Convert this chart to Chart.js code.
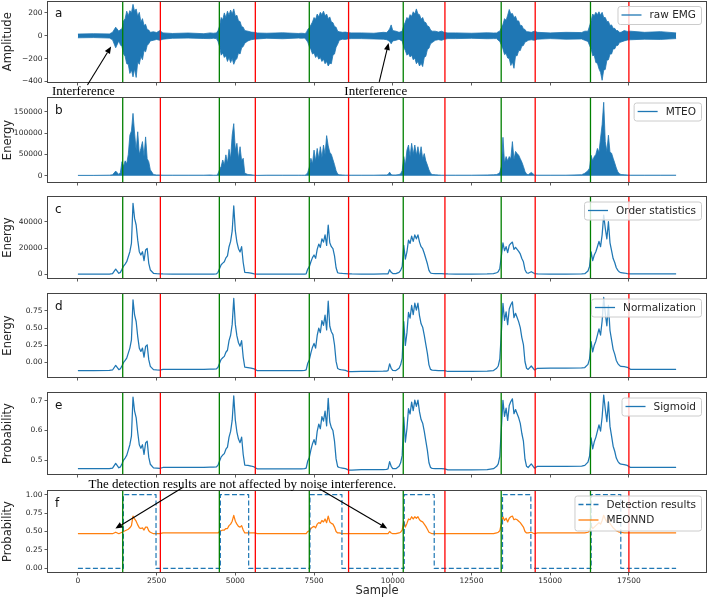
<!DOCTYPE html>
<html lang="en">
<head>
<meta charset="UTF-8">
<title>EMG onset detection stages</title>
<script src="https://cdn.jsdelivr.net/npm/chart.js@4.4.1/dist/chart.umd.min.js"></script>
<style>
  html, body { margin: 0; padding: 0; background: #fff; }
  #figure { position: relative; width: 708px; height: 599px; overflow: hidden; background: #fff; }
  #figure canvas { position: absolute; left: 0; }
</style>
</head>
<body>
<div id="figure"></div>
<script>
// ---- data (sample index on x) ----
const sampleX = [
  0, 500, 1000, 1100, 1200,
  1300, 1350, 1400, 1450, 1500, 1550, 1600, 1650, 1700, 1750, 1800, 1850, 1900, 1950, 2000, 2050, 2100, 2150, 2200, 2250, 2300, 2400, 2500, 2600, 2700,
  3000, 3500, 4000, 4200, 4300, 4400, 4450, 4500, 4550, 4600, 4650, 4700, 4750, 4800, 4850, 4900, 4950, 5000, 5050, 5100, 5150, 5200, 5250, 5300, 5400, 5500, 5600, 5700,
  6000, 6500, 7000, 7100, 7200, 7250, 7300, 7350, 7400, 7450, 7500, 7550, 7600, 7650, 7700, 7750, 7800, 7850, 7900, 7950, 8000, 8050, 8100, 8150, 8200, 8250, 8300, 8400, 8500, 8600, 8700,
  9000, 9400, 9700, 9800, 9850, 9900, 9950, 10000, 10100, 10200, 10250, 10300, 10350, 10400, 10450, 10500, 10550, 10600, 10650, 10700, 10750, 10800, 10850, 10900, 10950, 11000, 11050, 11100, 11150, 11200, 11250, 11350, 11450, 11550, 11650, 11750,
  12000, 12500, 13000, 13200, 13300, 13350, 13400, 13450, 13500, 13550, 13600, 13650, 13700, 13750, 13800, 13850, 13900, 13950, 14000, 14050, 14100, 14150, 14200, 14250, 14300, 14400, 14500, 14600,
  15000, 15500, 16000, 16100, 16200, 16250, 16300, 16350, 16400, 16450, 16500, 16550, 16600, 16650, 16700, 16750, 16800, 16850, 16900, 16950, 17000, 17050, 17100, 17150, 17200, 17250, 17350, 17450, 17550, 18000, 18500, 19000
];

// raw EMG: upper and lower envelope of the dense trace
const rawUpper = [
  15, 18, 16, 30, 75,
  40, 55, 60, 130, 150, 215, 175, 220, 200, 275, 215, 235, 170, 205, 120, 150, 90, 100, 55, 50, 30, 35, 28, 45, 25,
  20, 24, 18, 25, 22, 25, 45, 85, 160, 140, 200, 160, 215, 180, 225, 190, 235, 170, 180, 130, 125, 80, 75, 45, 40, 32, 30, 24,
  22, 26, 20, 22, 20, 25, 55, 70, 95, 120, 160, 145, 190, 165, 205, 185, 215, 175, 190, 150, 165, 120, 115, 80, 75, 40, 35, 30, 32, 26, 25,
  25, 22, 30, 28, 40, 60, 95, 45, 40, 30, 35, 40, 90, 120, 160, 145, 185, 170, 210, 190, 235, 190, 185, 145, 160, 120, 115, 85, 80, 50, 40, 40, 32, 40, 28, 25,
  25, 22, 26, 24, 25, 35, 40, 70, 100, 150, 135, 180, 230, 190, 195, 160, 170, 130, 130, 90, 90, 60, 55, 35, 35, 30, 40, 30,
  25, 30, 28, 40, 40, 85, 130, 190, 175, 205, 185, 210, 180, 205, 160, 160, 125, 125, 90, 95, 65, 65, 45, 45, 30, 30, 45, 38, 40, 30, 36, 25
];
const rawLower = [
  -18, -16, -20, -35, -105,
  -45, -80, -95, -160, -180, -245, -250, -330, -300, -360, -290, -365, -230, -250, -180, -210, -130, -140, -85, -70, -45, -40, -32, -40, -30,
  -22, -20, -24, -25, -22, -25, -50, -95, -170, -150, -190, -175, -225, -190, -235, -200, -250, -215, -200, -150, -160, -105, -95, -65, -45, -35, -30, -28,
  -22, -26, -20, -22, -20, -35, -55, -95, -120, -160, -150, -190, -170, -205, -190, -225, -205, -245, -225, -265, -240, -245, -170, -160, -100, -75, -40, -30, -32, -26, -25,
  -25, -28, -30, -34, -40, -50, -70, -45, -40, -30, -40, -45, -100, -130, -170, -155, -185, -170, -210, -195, -245, -225, -265, -240, -270, -190, -180, -120, -110, -70, -60, -40, -34, -40, -30, -25,
  -25, -22, -26, -25, -25, -40, -50, -80, -115, -165, -155, -195, -200, -260, -230, -285, -175, -175, -130, -130, -90, -85, -55, -50, -40, -35, -40, -30,
  -25, -30, -28, -40, -50, -85, -115, -175, -170, -235, -240, -290, -320, -390, -300, -295, -215, -210, -160, -160, -115, -115, -85, -85, -60, -55, -45, -38, -35, -30, -32, -25
];
const mteo = [
  1000, 1000, 1500, 2500, 11000,
  3000, 8000, 33000, 22000, 35000, 28000, 50000, 95000, 105000, 146000, 100000, 60000, 103000, 50000, 64000, 80000, 45000, 91000, 40000, 33000, 14000, 3000, 2000, 2000, 1500,
  1500, 1500, 1500, 2000, 1500, 1500, 5000, 15000, 22000, 37000, 25000, 49000, 30000, 62000, 40000, 95000, 122000, 60000, 76000, 40000, 68000, 35000, 41000, 6000, 3000, 2500, 1500, 1000,
  1500, 1500, 1500, 1500, 1500, 2500, 8000, 20000, 41000, 28000, 60000, 35000, 64000, 40000, 68000, 42000, 72000, 50000, 94000, 70000, 55000, 50000, 38000, 26000, 12000, 4000, 2500, 2000, 1500, 1500, 1500,
  1500, 1500, 2000, 2000, 3000, 8500, 3000, 2000, 2000, 3000, 5000, 12000, 45000, 25000, 60000, 72000, 45000, 76000, 50000, 72000, 48000, 68000, 45000, 68000, 40000, 52000, 35000, 25000, 14000, 6000, 3000, 2500, 2000, 1500, 1500, 1500,
  1500, 1500, 2000, 2500, 3000, 5000, 8000, 22000, 90000, 30000, 45000, 35000, 45000, 40000, 80000, 38000, 57000, 52000, 48000, 40000, 32000, 22000, 10000, 4000, 2500, 8000, 2000, 1500,
  1500, 1500, 2500, 6000, 12000, 18000, 48000, 35000, 45000, 50000, 64000, 55000, 88000, 120000, 172000, 80000, 57000, 95000, 55000, 53000, 41000, 30000, 18000, 9000, 5000, 3000, 2500, 2000, 1500, 1500, 1500, 1500
];
const orderStat = [
  200, 200, 200, 500, 4000,
  800, 1500, 3800, 6300, 7800, 9600, 13400, 17200, 23500, 54000, 42500, 37500, 26000, 17200, 14700, 17200, 10400, 18500, 19700, 8400, 3300, 800, 500, 400, 300,
  200, 200, 200, 200, 200, 300, 1500, 4500, 7300, 8500, 9500, 12500, 14000, 21000, 25000, 33000, 52000, 33000, 24500, 19500, 17000, 21000, 9000, 1500, 1300, 900, 300, 200,
  200, 200, 200, 200, 200, 400, 4000, 5800, 9600, 12700, 14700, 12200, 19000, 23000, 20500, 27000, 24500, 30000, 22000, 37500, 24000, 21000, 19500, 14000, 5000, 1200, 900, 700, 600, 400, 300,
  200, 200, 250, 300, 400, 3500, 1500, 600, 500, 1500, 3000, 6000, 22000, 11500, 17000, 26000, 23500, 29000, 25000, 30000, 27000, 30000, 24500, 21000, 19500, 16000, 12000, 8000, 3000, 1000, 700, 600, 500, 500, 400, 300,
  200, 200, 250, 500, 1200, 2000, 4500, 14000, 24000, 18000, 21000, 16500, 22000, 23500, 24500, 19000, 20500, 19000, 17500, 15500, 12000, 9500, 3500, 1200, 800, 2000, 600, 400,
  200, 200, 300, 500, 2500, 6000, 17000, 10400, 14700, 17200, 21000, 25000, 21000, 30000, 45000, 35000, 27000, 40000, 24000, 18000, 12000, 9000, 5000, 3000, 1800, 1200, 1000, 600, 400, 300, 300, 300
];
const normalized = [
  -0.118, -0.118, -0.116, -0.11, -0.044,
  -0.105, -0.091, -0.048, 0.0, 0.029, 0.063, 0.136, 0.208, 0.328, 0.91, 0.69, 0.595, 0.376, 0.208, 0.16, 0.208, 0.078, 0.233, 0.256, 0.04, -0.057, -0.105, -0.11, -0.112, -0.10,
  -0.10, -0.10, -0.10, -0.098, -0.098, -0.094, -0.07, -0.011, 0.045, 0.068, 0.088, 0.148, 0.177, 0.316, 0.395, 0.553, 0.93, 0.553, 0.385, 0.286, 0.237, 0.316, 0.078, -0.07, -0.074, -0.082, -0.094, -0.12,
  -0.12, -0.12, -0.12, -0.12, -0.115, -0.109, -0.012, 0.036, 0.139, 0.222, 0.276, 0.209, 0.392, 0.499, 0.432, 0.607, 0.54, 0.688, 0.472, 0.89, 0.526, 0.446, 0.405, 0.257, 0.015, -0.088, -0.10, -0.11, -0.115, -0.135, -0.135,
  -0.13, -0.13, -0.128, -0.126, -0.12, -0.02, -0.085, -0.115, -0.118, -0.085, -0.035, 0.064, 0.595, 0.247, 0.429, 0.728, 0.645, 0.828, 0.695, 0.861, 0.761, 0.861, 0.678, 0.562, 0.512, 0.396, 0.263, 0.131, -0.035, -0.102, -0.112, -0.115, -0.118, -0.118, -0.12, -0.132,
  -0.132, -0.132, -0.128, -0.118, -0.085, -0.052, 0.051, 0.445, 0.859, 0.611, 0.735, 0.549, 0.776, 0.839, 0.88, 0.652, 0.714, 0.652, 0.59, 0.507, 0.362, 0.259, 0.01, -0.085, -0.102, -0.052, -0.11, -0.085,
  -0.083, -0.083, -0.08, -0.074, -0.028, 0.052, 0.304, 0.153, 0.251, 0.309, 0.396, 0.487, 0.396, 0.602, 0.945, 0.716, 0.533, 0.831, 0.464, 0.327, 0.19, 0.121, 0.029, -0.016, -0.044, -0.058, -0.062, -0.071, -0.10, -0.10, -0.10, -0.10
];
const sigmoidOut = [
  0.471, 0.471, 0.471, 0.473, 0.489,
  0.474, 0.477, 0.488, 0.5, 0.507, 0.516, 0.534, 0.552, 0.581, 0.713, 0.666, 0.644, 0.593, 0.552, 0.54, 0.552, 0.519, 0.558, 0.564, 0.51, 0.486, 0.474, 0.473, 0.472, 0.475,
  0.475, 0.475, 0.475, 0.476, 0.476, 0.477, 0.483, 0.497, 0.511, 0.517, 0.522, 0.537, 0.544, 0.578, 0.597, 0.635, 0.717, 0.635, 0.595, 0.571, 0.559, 0.578, 0.519, 0.483, 0.482, 0.48, 0.477, 0.47,
  0.47, 0.47, 0.47, 0.47, 0.471, 0.473, 0.497, 0.509, 0.535, 0.555, 0.569, 0.552, 0.597, 0.622, 0.606, 0.647, 0.632, 0.666, 0.616, 0.709, 0.629, 0.61, 0.6, 0.564, 0.504, 0.478, 0.475, 0.473, 0.471, 0.466, 0.466,
  0.468, 0.468, 0.468, 0.469, 0.47, 0.495, 0.479, 0.471, 0.471, 0.479, 0.491, 0.516, 0.645, 0.561, 0.606, 0.674, 0.656, 0.696, 0.667, 0.703, 0.682, 0.703, 0.663, 0.637, 0.625, 0.598, 0.565, 0.533, 0.491, 0.475, 0.472, 0.471, 0.471, 0.471, 0.47, 0.467,
  0.467, 0.467, 0.468, 0.471, 0.479, 0.487, 0.513, 0.609, 0.702, 0.648, 0.676, 0.634, 0.685, 0.698, 0.707, 0.657, 0.671, 0.657, 0.643, 0.624, 0.59, 0.564, 0.503, 0.479, 0.475, 0.487, 0.473, 0.479,
  0.479, 0.479, 0.48, 0.482, 0.493, 0.513, 0.575, 0.538, 0.562, 0.577, 0.598, 0.619, 0.598, 0.646, 0.72, 0.672, 0.63, 0.697, 0.614, 0.581, 0.547, 0.53, 0.507, 0.496, 0.489, 0.486, 0.485, 0.482, 0.475, 0.475, 0.475, 0.475
];
const meonnd = [
  0.47, 0.47, 0.47, 0.47, 0.49,
  0.47, 0.48, 0.49, 0.50, 0.51, 0.52, 0.53, 0.55, 0.58, 0.71, 0.67, 0.64, 0.59, 0.55, 0.54, 0.55, 0.52, 0.56, 0.56, 0.51, 0.49, 0.47, 0.47, 0.47, 0.48,
  0.48, 0.48, 0.48, 0.48, 0.48, 0.48, 0.48, 0.50, 0.51, 0.52, 0.52, 0.54, 0.54, 0.58, 0.60, 0.64, 0.72, 0.64, 0.60, 0.57, 0.56, 0.58, 0.52, 0.48, 0.48, 0.48, 0.48, 0.47,
  0.47, 0.47, 0.47, 0.47, 0.47, 0.47, 0.50, 0.51, 0.54, 0.56, 0.57, 0.55, 0.60, 0.62, 0.61, 0.65, 0.63, 0.67, 0.62, 0.71, 0.63, 0.61, 0.60, 0.56, 0.50, 0.48, 0.48, 0.47, 0.47, 0.47, 0.47,
  0.47, 0.47, 0.47, 0.47, 0.47, 0.50, 0.48, 0.47, 0.47, 0.48, 0.49, 0.52, 0.64, 0.56, 0.61, 0.67, 0.66, 0.70, 0.67, 0.70, 0.68, 0.70, 0.66, 0.64, 0.63, 0.60, 0.57, 0.53, 0.49, 0.48, 0.47, 0.47, 0.47, 0.47, 0.47, 0.47,
  0.47, 0.47, 0.47, 0.47, 0.48, 0.49, 0.51, 0.61, 0.70, 0.65, 0.68, 0.63, 0.68, 0.70, 0.71, 0.66, 0.67, 0.66, 0.64, 0.62, 0.59, 0.56, 0.50, 0.48, 0.48, 0.49, 0.47, 0.48,
  0.48, 0.48, 0.48, 0.48, 0.49, 0.51, 0.58, 0.54, 0.56, 0.58, 0.60, 0.62, 0.60, 0.65, 0.72, 0.67, 0.63, 0.70, 0.61, 0.58, 0.55, 0.53, 0.51, 0.50, 0.49, 0.49, 0.48, 0.48, 0.48, 0.48, 0.48, 0.48
];

// detection windows (dashed step) and the reference onset / offset markers
const detectOn  = [1444, 4524, 7370, 10365, 13486, 16302];
const detectOff = [2481, 5423, 8386, 11317, 14386, 17243];
const onsetMarks  = [1423, 4492, 7349, 10333, 13444, 16280];
const offsetMarks = [2619, 5635, 8597, 11657, 14524, 17500];

// tick values and labels
const sampleTicks = [0, 2500, 5000, 7500, 10000, 12500, 15000, 17500];
const ampTicks = [-400, -200, 0, 200];
const ampLabels = ['\u2212400', '\u2212200', '0', '200'];
const mteoTicks = [0, 50000, 100000, 150000];
const mteoLabels = ['0', '50000', '100000', '150000'];
const orderTicks = [0, 20000, 40000];
const orderLabels = ['0', '20000', '40000'];
const normTicks = [0, 0.25, 0.5, 0.75];
const normLabels = ['0.00', '0.25', '0.50', '0.75'];
const sigTicks = [0.5, 0.6, 0.7];
const sigLabels = ['0.5', '0.6', '0.7'];
const probTicks = [0, 0.25, 0.5, 0.75, 1];
const probLabels = ['0.00', '0.25', '0.50', '0.75', '1.00'];

// ---- drawing ----
const BLUE = '#1f77b4', ORANGE = '#ff7f0e';
const SANS = "'DejaVu Sans', 'Liberation Sans', sans-serif";
const SERIF = "'Liberation Serif', 'DejaVu Serif', serif";
Chart.defaults.font.family = SANS;
Chart.defaults.color = '#262626';

const pts = ys => sampleX.map((x, i) => ({x: x, y: ys[i]}));

function detectionSteps() {
  const out = [{x: sampleX[0], y: 0}];
  detectOn.forEach((on, i) => {
    out.push({x: on, y: 0}, {x: on, y: 1}, {x: detectOff[i], y: 1}, {x: detectOff[i], y: 0});
  });
  out.push({x: sampleX[sampleX.length - 1], y: 0});
  return out;
}

function line(label, ys, color, extra) {
  return Object.assign({label: label, data: pts(ys), borderColor: color, backgroundColor: color,
    borderWidth: 1.25, pointRadius: 0, fill: false}, extra || {});
}

function drawArrow(ctx, x0, y0, x1, y1) {
  const ang = Math.atan2(y1 - y0, x1 - x0), L = 7, W = 3;
  const bx = x1 - L * Math.cos(ang), by = y1 - L * Math.sin(ang);
  ctx.beginPath(); ctx.moveTo(x0, y0); ctx.lineTo(bx, by); ctx.stroke();
  ctx.beginPath(); ctx.moveTo(x1, y1);
  ctx.lineTo(bx + W * Math.sin(ang), by - W * Math.cos(ang));
  ctx.lineTo(bx - W * Math.sin(ang), by + W * Math.cos(ang));
  ctx.closePath(); ctx.fill();
}

function decor(p) {
  return {
    id: 'decor',
    afterDatasetsDraw(chart) {
      const ctx = chart.ctx, a = chart.chartArea, xs = chart.scales.x, ys = chart.scales.y;
      ctx.save();
      // onset (green) and offset (red) markers
      ctx.lineWidth = 1.3;
      [[onsetMarks, '#008000'], [offsetMarks, '#ff0000']].forEach(([list, col]) => {
        ctx.strokeStyle = col;
        list.forEach(v => {
          const px = xs.getPixelForValue(v);
          ctx.beginPath(); ctx.moveTo(px, a.top); ctx.lineTo(px, a.bottom); ctx.stroke();
        });
      });
      // axes frame
      ctx.strokeStyle = '#444';
      ctx.lineWidth = 1;
      ctx.strokeRect(Math.round(a.left) - 0.5, Math.round(a.top) - 0.5,
        Math.round(a.right) - Math.round(a.left) + 1, Math.round(a.bottom) - Math.round(a.top) + 1);
      // panel letter
      ctx.fillStyle = '#111';
      ctx.font = '12px ' + SANS;
      ctx.textAlign = 'left'; ctx.textBaseline = 'alphabetic';
      ctx.fillText(p.letter, a.left + 7, a.top + 15.5);
      // annotations
      (p.notes || []).forEach(n => {
        ctx.fillStyle = '#000'; ctx.strokeStyle = '#000'; ctx.lineWidth = 1.1;
        ctx.font = '13px ' + SERIF;
        ctx.textAlign = 'center'; ctx.textBaseline = 'middle';
        ctx.fillText(n.text, xs.getPixelForValue(n.at[0]), ys.getPixelForValue(n.at[1]));
        n.arrows.forEach(ar => drawArrow(ctx,
          xs.getPixelForValue(ar.from[0]), ys.getPixelForValue(ar.from[1]),
          xs.getPixelForValue(ar.to[0]), ys.getPixelForValue(ar.to[1])));
      });
      // legend box
      const entries = p.legend.map(i => chart.data.datasets[i]);
      ctx.font = '10.5px ' + SANS;
      const tw = Math.max.apply(null, entries.map(d => ctx.measureText(d.label).width));
      const rowH = 15.5;
      const boxH = 18 + (entries.length - 1) * (rowH + 1.5);
      const boxW = 32 + tw + 5;
      const right = a.right - 5, left = right - boxW, top = a.top + 4.5;
      ctx.beginPath();
      if (ctx.roundRect) ctx.roundRect(left + 0.5, top + 0.5, boxW, boxH, 2.5); else ctx.rect(left + 0.5, top + 0.5, boxW, boxH);
      ctx.fillStyle = 'rgba(255,255,255,0.8)'; ctx.fill();
      ctx.strokeStyle = '#cccccc'; ctx.lineWidth = 1; ctx.stroke();
      entries.forEach((d, i) => {
        const cy = top + 9 + i * rowH;
        ctx.strokeStyle = d.borderColor; ctx.lineWidth = 1.3;
        ctx.setLineDash(d.borderDash || []);
        ctx.beginPath(); ctx.moveTo(left + 4, cy); ctx.lineTo(left + 24, cy); ctx.stroke();
        ctx.setLineDash([]);
        ctx.fillStyle = '#262626'; ctx.textAlign = 'left'; ctx.textBaseline = 'middle';
        ctx.fillText(d.label, left + 32, cy + 0.5);
      });
      ctx.restore();
    }
  };
}

const panels = [
  { letter: 'a', top: 0, height: 100, padTop: 1.5, axisH: 18, yMin: -405, yMax: 300,
    ticks: ampTicks, labels: ampLabels, title: 'Amplitude', legend: [1],
    datasets: [
      line('raw EMG lower', rawLower, BLUE, {borderWidth: 0.8}),
      line('raw EMG', rawUpper, BLUE, {borderWidth: 0.8, fill: '-1'})
    ],
    notes: [
      {text: 'Interference', at: [175, -489], arrows: [{from: [302, -432], to: [1054, -94]}]},
      {text: 'Interference', at: [9460, -489], arrows: [{from: [9571, -403], to: [9867, -64]}]}
    ] },
  { letter: 'b', top: 90, height: 100, padTop: 8, axisH: 8, yMin: -14500, yMax: 182000,
    ticks: mteoTicks, labels: mteoLabels, title: 'Energy', legend: [0],
    datasets: [line('MTEO', mteo, BLUE, {borderWidth: 0.8, fill: 'origin'})] },
  { letter: 'c', top: 190, height: 95, padTop: 7, axisH: 7, yMin: -2800, yMax: 58800,
    ticks: orderTicks, labels: orderLabels, title: 'Energy', legend: [0],
    datasets: [line('Order statistics', orderStat, BLUE)] },
  { letter: 'd', top: 285, height: 100, padTop: 9, axisH: 8, yMin: -0.212, yMax: 0.995,
    ticks: normTicks, labels: normLabels, title: 'Energy', legend: [0],
    datasets: [line('Normalization', normalized, BLUE)] },
  { letter: 'e', top: 385, height: 95, padTop: 8, axisH: 6, yMin: 0.453, yMax: 0.727,
    ticks: sigTicks, labels: sigLabels, title: 'Probability', legend: [0],
    datasets: [line('Sigmoid', sigmoidOut, BLUE)] },
  { letter: 'f', top: 470, height: 129, padTop: 21, axisH: 27, yMin: -0.05, yMax: 1.05,
    ticks: probTicks, labels: probLabels, title: 'Probability', legend: [0, 1], bottom: true,
    datasets: [
      {label: 'Detection results', data: detectionSteps(), borderColor: BLUE, backgroundColor: BLUE,
        borderWidth: 1.2, borderDash: [5, 2.5], pointRadius: 0, fill: false},
      line('MEONND', meonnd, ORANGE)
    ],
    notes: [
      {text: 'The detection results are not affected by noise interference.', at: [5222, 1.142],
        arrows: [{from: [3317, 1.095], to: [1190, 0.54]}, {from: [7667, 1.08], to: [9825, 0.54]}]}
    ] }
];

const fig = document.getElementById('figure');
panels.forEach(p => {
  const cv = document.createElement('canvas');
  cv.width = 708; cv.height = p.height;
  cv.style.top = p.top + 'px';
  fig.appendChild(cv);
  new Chart(cv, {
    type: 'line',
    data: {datasets: p.datasets},
    options: {
      responsive: false, animation: false, devicePixelRatio: 1, events: [],
      layout: {padding: {top: p.padTop, right: 2, left: 0, bottom: 0}},
      plugins: {legend: {display: false}, tooltip: {enabled: false}},
      elements: {line: {tension: 0, borderJoinStyle: 'round'}, point: {radius: 0}},
      scales: {
        x: {
          type: 'linear', min: -950, max: 19949, bounds: 'data',
          afterBuildTicks: s => { s.ticks = sampleTicks.map(v => ({value: v})); },
          afterFit: s => { s.height = p.axisH; s.paddingLeft = 0; s.paddingRight = 0; },
          grid: {drawOnChartArea: false, drawTicks: true, tickLength: 3.5, color: '#333', lineWidth: 0.8},
          border: {display: false},
          ticks: {display: !!p.bottom, font: {size: 7.5}, padding: 1, maxRotation: 0, autoSkip: false,
            callback: v => String(v)},
          title: {display: !!p.bottom, text: 'Sample', font: {size: 11.5}, padding: {top: 0, bottom: 1.3}}
        },
        y: {
          type: 'linear', min: p.yMin, max: p.yMax, bounds: 'data',
          afterBuildTicks: s => { s.ticks = p.ticks.map(v => ({value: v})); },
          afterFit: s => { s.width = 48; s.paddingTop = 0; s.paddingBottom = 0; },
          grid: {drawOnChartArea: false, drawTicks: true, tickLength: 3.5, color: '#333', lineWidth: 0.8},
          border: {display: false},
          ticks: {font: {size: 7.5}, padding: 2, callback: (v, i) => p.labels[i]},
          title: {display: true, text: p.title, font: {size: 11.5}, padding: {top: 1.1, bottom: 0}}
        }
      }
    },
    plugins: [decor(p)]
  });
});
</script>
</body>
</html>
